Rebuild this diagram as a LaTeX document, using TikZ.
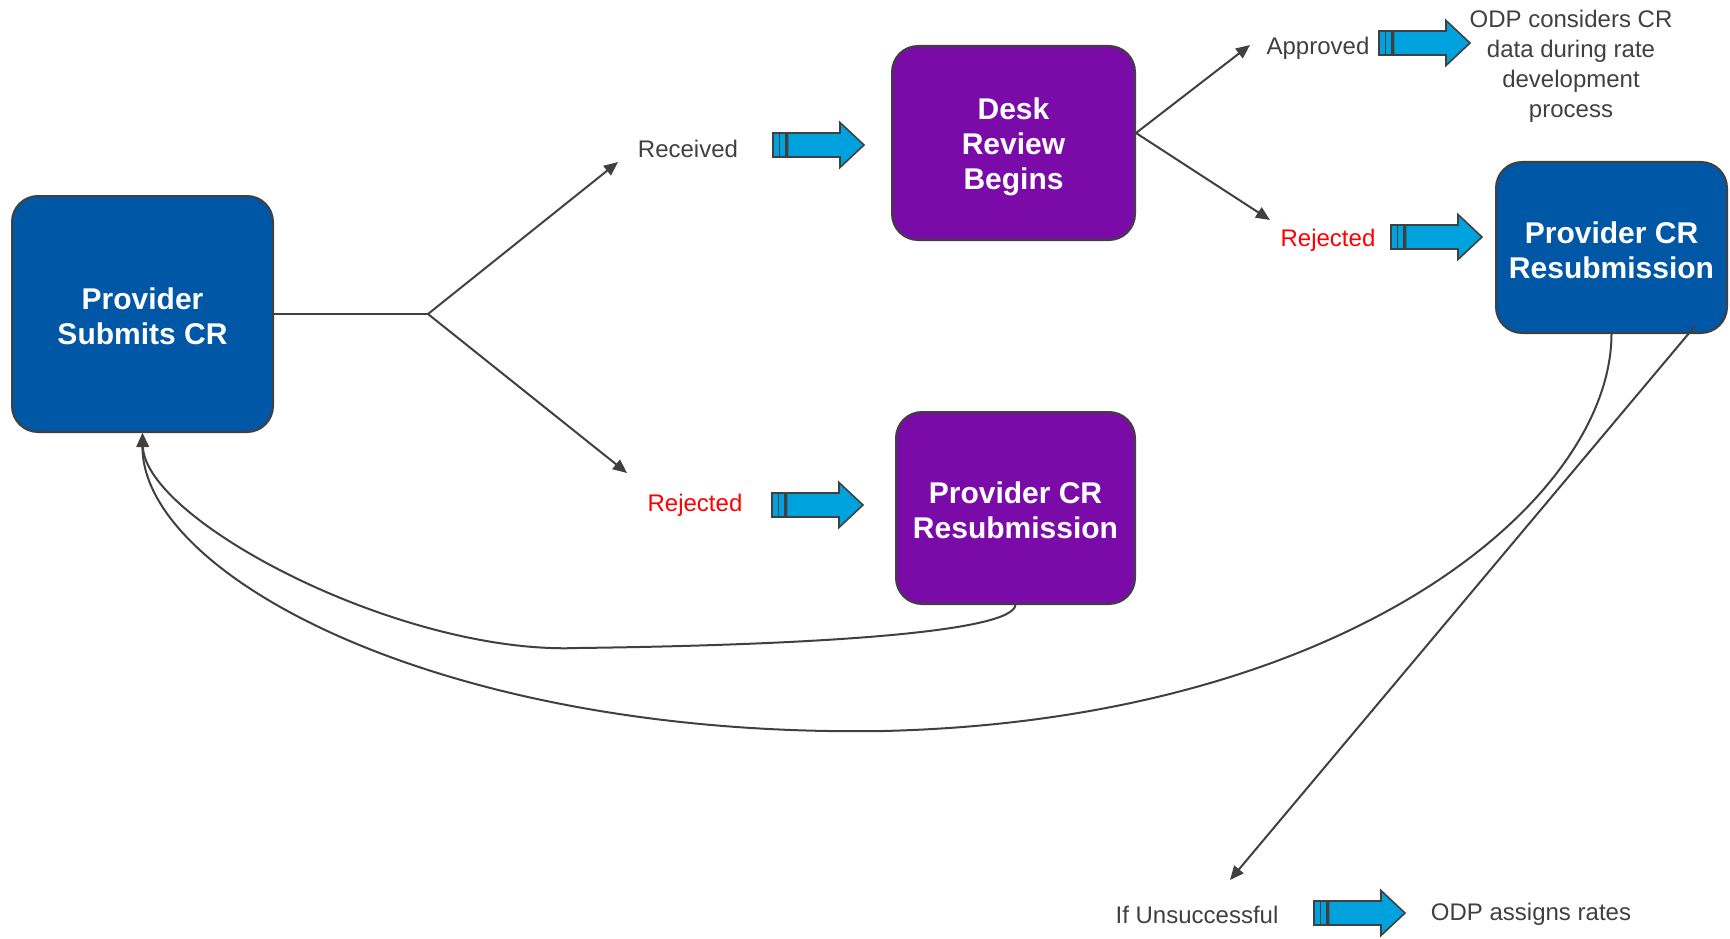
\documentclass[tikz,border=0pt]{standalone}
\usepackage{fontspec}
\setmainfont{Liberation Sans}
\usetikzlibrary{arrows.meta}
\definecolor{boxblue}{HTML}{0057A5}
\definecolor{boxpurple}{HTML}{7B0BA9}
\definecolor{arrowblue}{HTML}{00A2DD}
\definecolor{linegray}{HTML}{404040}
\definecolor{textgray}{HTML}{404040}
\definecolor{rejred}{HTML}{FF0000}
\begin{document}
\begin{tikzpicture}[x=1pt,y=-1pt,
  box/.style={draw=linegray,line width=2pt,rounded corners=26pt,text=white,
    font=\fontsize{30}{35}\selectfont\bfseries,align=center,inner sep=0pt},
  lbl/.style={text=textgray,font=\fontsize{24}{30}\selectfont,inner sep=0pt,
    text height=17pt,text depth=0pt},
  mlbl/.style={text=textgray,font=\fontsize{24}{30}\selectfont,inner sep=0pt,align=center},
  conn/.style={draw=linegray,line width=2pt},
  arr/.style={conn,-{Triangle[length=14pt,width=12pt]}},
  barpart/.style={draw=linegray,fill=arrowblue,line width=1.6pt,line join=miter},
  blockarrow/.pic={
    \path[barpart] (0,-12) rectangle (6.5,12);
    \path[barpart] (6.5,-12) rectangle (13,12);
    \path[barpart] (14.5,-12) -- (67,-12) -- (67,-22.5) -- (91,0) -- (67,22.5)
      -- (67,12) -- (14.5,12) -- cycle;
  }]
\useasboundingbox (0,0) rectangle (1730,939);

% boxes
\node[box,fill=boxblue,minimum width=261pt,minimum height=236pt] (sub) at (142.5,314) {\rule{0pt}{27pt}Provider\\Submits CR};
\node[box,fill=boxpurple,minimum width=243pt,minimum height=194pt] (desk) at (1013.5,143) {\rule{0pt}{29pt}Desk\\Review\\Begins};
\node[box,fill=boxpurple,minimum width=239pt,minimum height=192pt] (resB) at (1015.5,508) {\rule{0pt}{27pt}Provider CR\\Resubmission};
\node[box,fill=boxblue,minimum width=231pt,minimum height=171pt] (resR) at (1611.5,247.5) {\rule{0pt}{27pt}Provider CR\\Resubmission};

% labels
\node[lbl] (rec) at (688,149) {Received};
\node[lbl] (app) at (1318,46) {Approved};
\node[mlbl] (odp1) at (1571,66) {ODP considers CR\\data during rate\\development\\process};
\node[lbl,text=rejred] (rej1) at (1328,238) {Rejected};
\node[lbl,text=rejred] (rej2) at (695,503) {Rejected};
\node[lbl] (uns) at (1197,915) {If Unsuccessful};
\node[lbl] (odp2) at (1531,912) {ODP assigns rates};

% block arrows
\pic at (773,145) {blockarrow};
\pic at (1379,43) {blockarrow};
\pic at (1391,237) {blockarrow};
\pic at (772,505) {blockarrow};
\pic at (1314,913) {blockarrow};

% connector end points
\coordinate (br) at (428,314);
\coordinate (recTip) at (618,162);
\coordinate (rejTip) at (627,473);
\coordinate (appTip) at (1250,45);
\coordinate (rej1Tip) at (1270,220);
\coordinate (unsTip) at (1230,880);

\draw[conn] (sub.east) -- (br);
\draw[arr] (br) -- (recTip);
\draw[arr] (br) -- (rejTip);
\draw[arr] ([yshift=10pt]desk.east) -- (appTip);
\draw[arr] ([yshift=10pt]desk.east) -- (rej1Tip);
\draw[arr] (resB.south) .. controls (1012,632) and (820,645) .. (578,648)
  .. controls (400,655) and (145,520) .. (sub.south);
\draw[arr] (resR.south) .. controls (1611,500) and (1350,720) .. (883,731)
  .. controls (440,738) and (142,575) .. (sub.south);
\draw[arr] ([xshift=-33pt,yshift=8pt]resR.south east) -- (unsTip);
\end{tikzpicture}
\end{document}
